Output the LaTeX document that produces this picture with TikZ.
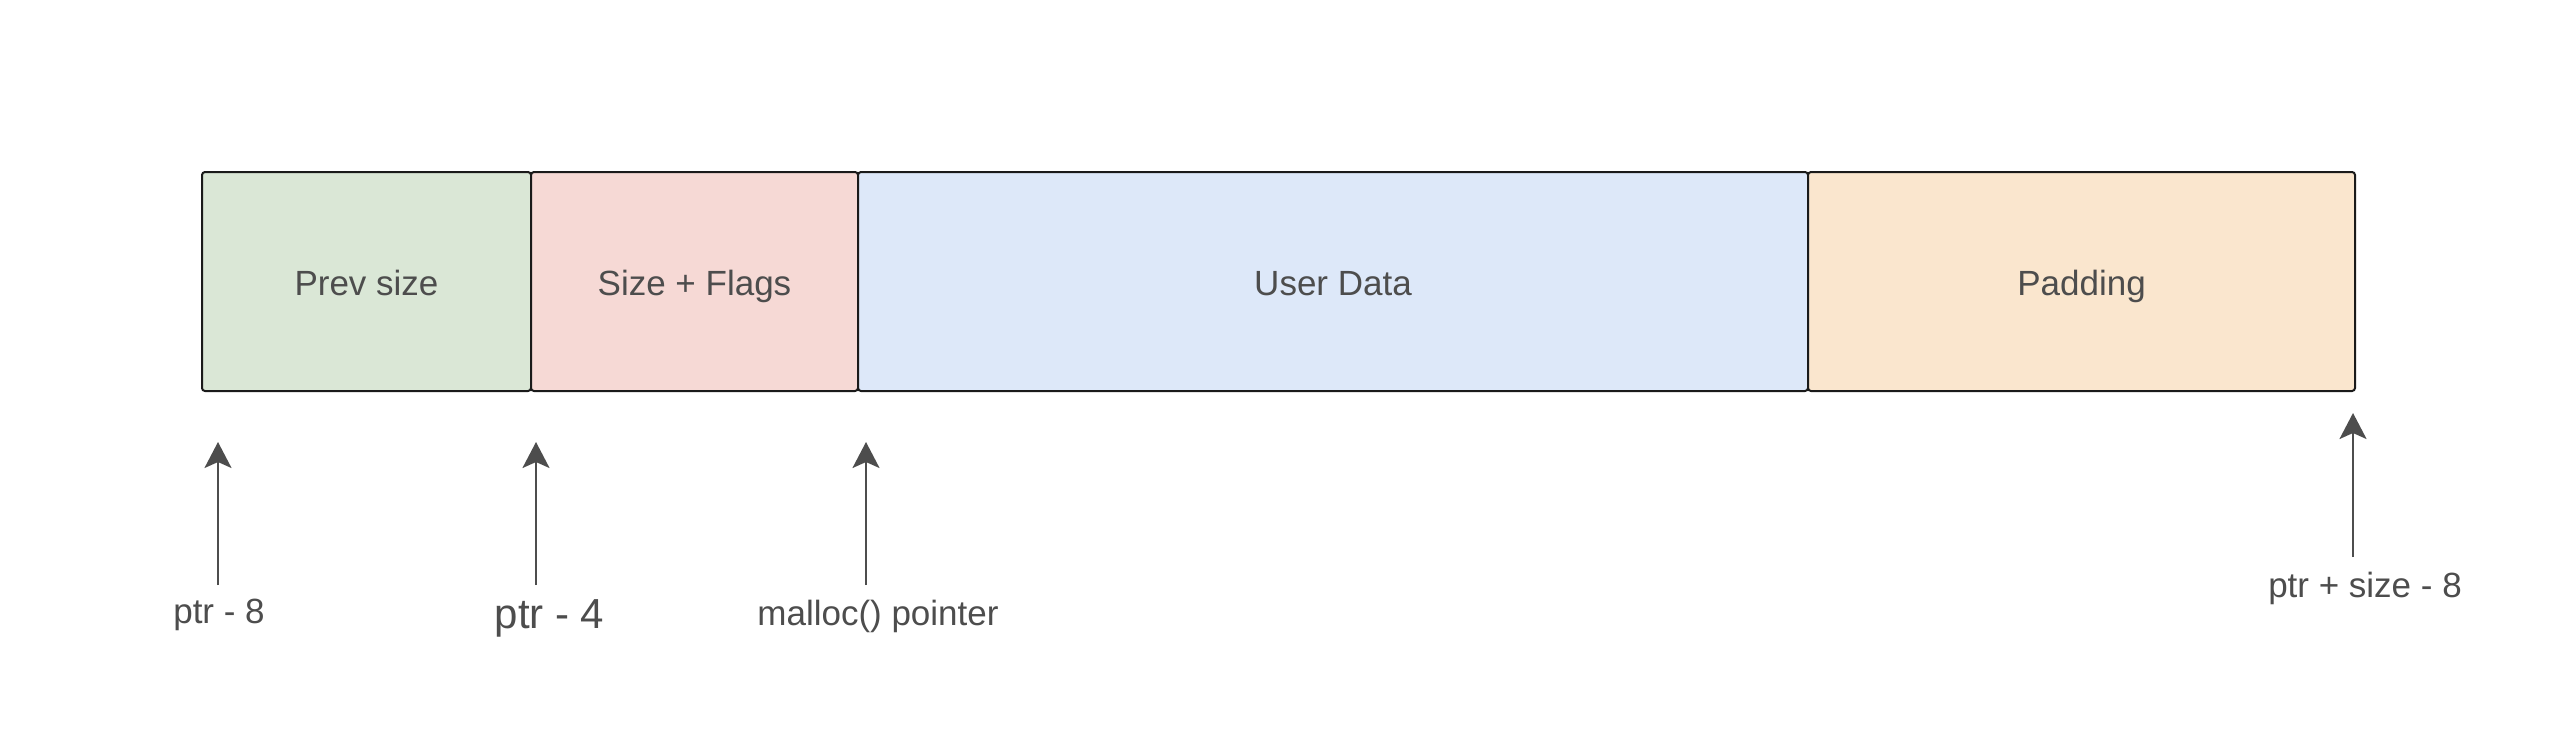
\documentclass[tikz,border=0pt]{standalone}
\usepackage{fontspec}
\setmainfont{Liberation Sans}
\usetikzlibrary{arrows.meta}
\definecolor{cgreen}{HTML}{DAE7D6}
\definecolor{cpink}{HTML}{F6D9D5}
\definecolor{cblue}{HTML}{DDE8F9}
\definecolor{corange}{HTML}{FAE6CE}
\definecolor{txt}{HTML}{4D4D4D}
\definecolor{edge}{HTML}{1A1A1A}
\begin{document}
\begin{tikzpicture}[x=1pt,y=-1pt,
  cell/.style={draw=edge,line width=2pt,rounded corners=3pt},
  celltext/.style={text=txt,font=\fontsize{35}{40}\selectfont,anchor=base,inner sep=0pt},
  lab/.style={text=txt,font=\fontsize{35}{40}\selectfont,anchor=base,inner sep=0pt},
  ptrarrow/.style={draw=txt,line width=2pt,-{Stealth[length=26pt,width=27pt,inset=6pt]}}]
\useasboundingbox (0,0) rectangle (2570,732);
\fill[white] (0,0) rectangle (2570,732);
% cells
\filldraw[cell,fill=cgreen] (202,172) rectangle (531,391);
\filldraw[cell,fill=cpink] (531,172) rectangle (858,391);
\filldraw[cell,fill=cblue] (858,172) rectangle (1808,391);
\filldraw[cell,fill=corange] (1808,172) rectangle (2355,391);
\node[celltext] (prev) at (366.5,295) {Prev size};
\node[celltext] (sizeflags) at (694.5,295) {Size + Flags};
\node[celltext] (user) at (1333,295) {User Data};
\node[celltext] (pad) at (2081.5,295) {Padding};
% labels
\node[lab] (l8) at (219,623) {ptr - 8};
\node[lab,font=\fontsize{42}{48}\selectfont] (l4) at (549.5,628) {ptr - 4};
\node[lab] (lm) at (878,625) {malloc() pointer};
\node[lab] (ls) at (2365,597) {ptr + size - 8};
% arrow ends
\coordinate (a1s) at (218,585); \coordinate (a1e) at (218,442);
\coordinate (a2s) at (536,585); \coordinate (a2e) at (536,442);
\coordinate (a3s) at (866,585); \coordinate (a3e) at (866,442);
\coordinate (a4s) at (2353,557); \coordinate (a4e) at (2353,413);
\draw[ptrarrow] (a1s) -- (a1e);
\draw[ptrarrow] (a2s) -- (a2e);
\draw[ptrarrow] (a3s) -- (a3e);
\draw[ptrarrow] (a4s) -- (a4e);
\end{tikzpicture}
\end{document}
